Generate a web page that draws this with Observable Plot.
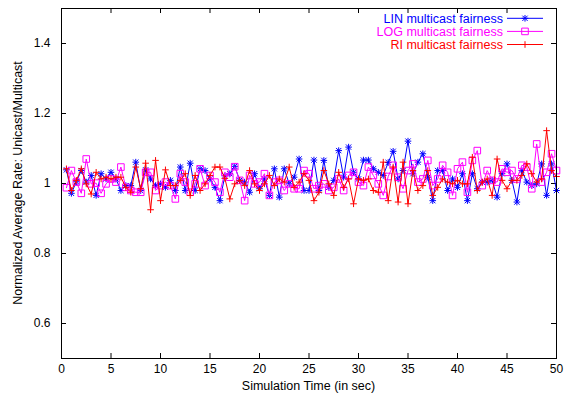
<!DOCTYPE html>
<html><head><meta charset="utf-8">
<script src="https://cdn.jsdelivr.net/npm/d3@7"></script>
<script src="https://cdn.jsdelivr.net/npm/@observablehq/plot@0.6"></script>
<style>body{margin:0;background:#fff;}</style>
</head><body><div id="chart"></div>
<script>
const times = [0.5,1,1.5,2,2.5,3,3.5,4,4.5,5,5.5,6,6.5,7,7.5,8,8.5,9,9.5,10,
10.5,11,11.5,12,12.5,13,13.5,14,14.5,15,15.5,16,16.5,17,17.5,18,18.5,19,19.5,20,
20.5,21,21.5,22,22.5,23,23.5,24,24.5,25,25.5,26,26.5,27,27.5,28,28.5,29,29.5,30,
30.5,31,31.5,32,32.5,33,33.5,34,34.5,35,35.5,36,36.5,37,37.5,38,38.5,39,39.5,40,
40.5,41,41.5,42,42.5,43,43.5,44,44.5,45,45.5,46,46.5,47,47.5,48,48.5,49,49.5,50];

const linFairness = [1.039,0.972,1.005,1.037,1.004,1.023,0.966,1.028,1.013,1.032,
1.013,0.980,0.994,0.994,1.061,0.980,1.039,1.013,0.994,0.999,
0.989,1.009,0.980,1.047,0.980,1.058,0.980,1.042,1.037,1.013,
0.989,0.951,1.022,1.028,1.049,1.009,1.004,0.975,1.028,0.985,
1.013,0.966,1.042,0.961,1.042,0.999,1.018,1.070,0.980,0.980,
1.067,0.980,1.066,0.989,1.009,1.094,1.018,1.104,1.032,1.013,
1.067,1.067,1.042,1.032,1.023,1.060,1.092,1.013,1.037,1.121,
1.028,1.061,1.085,1.018,0.951,1.037,1.037,0.980,1.013,0.989,
1.028,0.951,1.028,0.985,1.004,1.004,1.009,0.961,1.028,1.056,
1.009,0.947,1.037,1.004,0.994,0.999,1.056,0.966,1.056,0.980];

const logFairness = [0.988,1.037,1.004,0.972,1.070,0.999,1.001,0.972,0.999,1.013,
1.004,1.047,0.989,0.980,0.975,0.975,1.032,1.032,0.980,0.994,
1.004,0.994,0.956,1.028,1.004,0.975,0.999,1.042,0.994,1.023,
1.004,0.975,1.032,1.018,1.048,1.009,0.951,1.023,0.999,1.004,
1.028,0.966,1.004,1.009,0.980,0.999,0.985,0.985,1.037,1.028,
0.985,0.994,0.999,0.980,0.989,1.013,0.980,1.023,1.032,1.004,
0.994,1.047,1.023,0.999,0.966,1.020,1.052,1.018,0.985,1.037,
1.056,1.004,1.013,1.066,0.994,1.013,1.052,1.032,0.966,1.042,
1.061,0.975,1.066,1.094,0.994,1.037,1.009,1.004,1.042,1.032,
1.037,1.013,1.052,1.047,0.985,1.113,1.004,1.032,1.085,1.037];

const riFairness = [1.042,0.980,1.009,1.042,0.999,0.970,1.032,1.013,1.018,1.013,
1.018,1.018,0.989,0.975,1.047,0.985,1.058,0.925,1.066,0.951,
1.039,0.994,0.994,1.009,1.028,0.966,1.023,0.980,0.999,1.023,
1.047,1.047,1.015,0.956,0.999,1.009,0.994,1.037,0.999,0.980,
0.999,1.023,0.994,1.013,1.004,1.047,0.989,1.004,1.028,1.009,
0.951,0.975,1.037,0.999,0.966,1.032,0.989,1.013,0.942,1.013,
1.009,1.013,0.980,0.975,1.061,0.951,1.047,0.947,1.061,0.942,
1.037,0.980,0.994,1.037,0.966,0.989,1.013,1.004,0.999,1.009,
0.999,0.999,1.075,0.980,1.004,1.013,0.966,1.070,1.009,0.985,
1.009,1.009,1.023,1.056,1.028,1.004,1.013,1.151,1.037,1.020];

const seriesNames = ["LIN multicast fairness","LOG multicast fairness","RI multicast fairness"];
const xTicks = [0,5,10,15,20,25,30,35,40,45,50];
const xTickLabels = ["0","5","10","15","20","25","30","35","40","45","50"];
const yTicks = [0.6,0.8,1,1.2,1.4];
const yTickLabels = ["0.6","0.8","1","1.2","1.4"];
const xTitle = "Simulation Time (in sec)";
const yTitle = "Normalized Average Rate: Unicast/Multicast";

// gnuplot-like point symbols
const symAsterisk = {draw(c, size){const r=Math.sqrt(size/Math.PI);const d=r*0.8;
  c.moveTo(-r,0);c.lineTo(r,0);c.moveTo(0,-r);c.lineTo(0,r);
  c.moveTo(-d,-d);c.lineTo(d,d);c.moveTo(-d,d);c.lineTo(d,-d);}};
const symSquare = {draw(c, size){const r=Math.sqrt(size/Math.PI);
  c.moveTo(-r,-r);c.lineTo(r,-r);c.lineTo(r,r);c.lineTo(-r,r);c.closePath();}};
const symPlus = {draw(c, size){const r=Math.sqrt(size/Math.PI);
  c.moveTo(-r,0);c.lineTo(r,0);c.moveTo(0,-r);c.lineTo(0,r);}};

const colors = ["#0000ff","#ff00ff","#ff0000"];
const symbols = [symAsterisk, symSquare, symPlus];
const allValues = [linFairness, logFairness, riFairness];
const series = allValues.map((vals, s) => times.map((t, i) => ({t, v: vals[i], s})));

const W = 564, H = 401, mL = 61, mR = 8, mT = 8, mB = 43;
const iw = W - mL - mR, ih = H - mT - mB, tk = 5;
const font = "'Liberation Sans', Arial, Helvetica, sans-serif";

const marks = [];
series.forEach((d, s) => {
  marks.push(Plot.line(d, {x: "t", y: "v", stroke: colors[s], strokeWidth: 1}));
  marks.push(Plot.dot(d, {x: "t", y: "v", symbol: symbols[s], r: 3.3, stroke: colors[s], fill: "none", strokeWidth: 1}));
});

const plot = Plot.plot({
  width: W, height: H,
  marginLeft: mL, marginRight: mR, marginTop: mT, marginBottom: mB,
  style: {fontSize: "12px", fontFamily: font, background: "#fff", color: "#000"},
  x: {domain: [0, 50]},
  y: {domain: [0.5, 1.5]},
  marks: [
    Plot.tickY(yTicks, {y: d => d, insetRight: iw - tk, stroke: "#000"}),
    Plot.tickY(yTicks, {y: d => d, insetLeft: iw - tk, stroke: "#000"}),
    Plot.tickX(xTicks, {x: d => d, insetTop: ih - tk, stroke: "#000"}),
    Plot.tickX(xTicks, {x: d => d, insetBottom: ih - tk, stroke: "#000"}),
    Plot.axisX({ticks: xTicks, tickSize: 0, tickPadding: 6, tickFormat: d => xTickLabels[xTicks.indexOf(d)], label: null}),
    Plot.axisY({ticks: yTicks, tickSize: 0, tickPadding: 11, tickFormat: d => yTickLabels[yTicks.indexOf(d)], label: null}),
    ...marks,
    Plot.frame({stroke: "#000", strokeWidth: 1})
  ]
});

const svg = d3.select(plot);
svg.append("text").attr("x", mL + iw / 2).attr("y", 390).attr("text-anchor", "middle")
  .attr("font-size", 12.5).attr("fill", "#000").text(xTitle);
svg.append("text").attr("transform", `translate(22,${mT + ih / 2}) rotate(-90)`).attr("text-anchor", "middle")
  .attr("font-size", 12.5).attr("fill", "#000").text(yTitle);

const leg = svg.append("g");
seriesNames.forEach((name, s) => {
  const cy = 18.3 + 13.1 * s;
  leg.append("text").attr("x", 503).attr("y", cy + 4.5).attr("text-anchor", "end")
    .attr("font-size", 12.5).attr("fill", colors[s]).text(name);
  leg.append("line").attr("x1", 507).attr("x2", 543).attr("y1", cy).attr("y2", cy)
    .attr("stroke", colors[s]).attr("stroke-width", 1);
  leg.append("path").attr("transform", `translate(525,${cy})`)
    .attr("d", d3.symbol(symbols[s], Math.PI * 3.3 * 3.3)())
    .attr("stroke", colors[s]).attr("fill", "none").attr("stroke-width", 1);
});

document.getElementById("chart").appendChild(plot);
</script>
</body></html>
